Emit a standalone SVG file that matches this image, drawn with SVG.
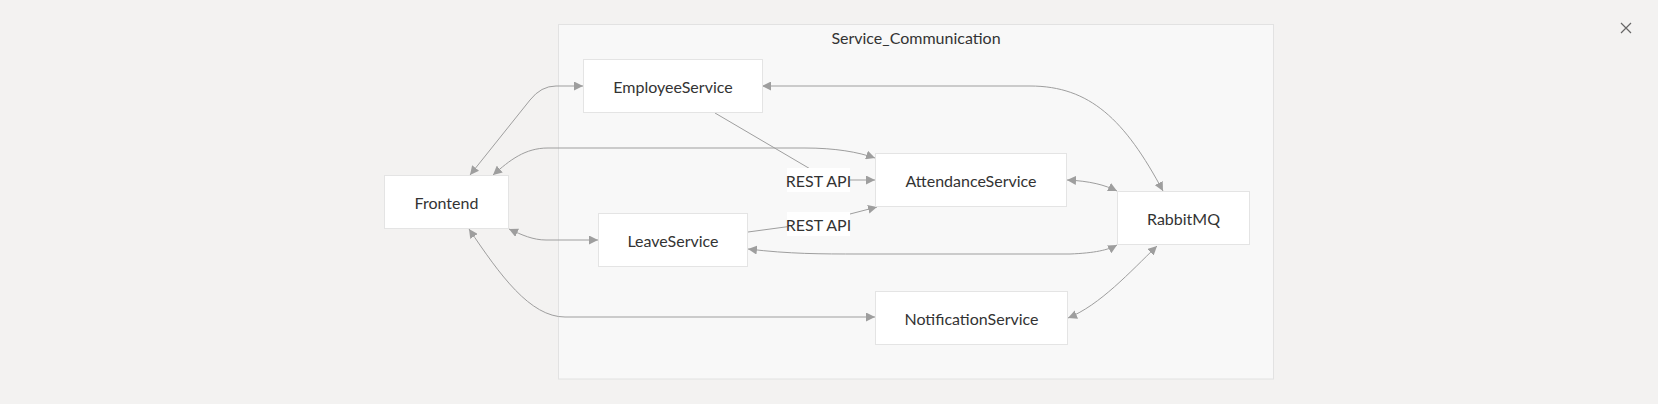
<svg xmlns="http://www.w3.org/2000/svg" width="1658" height="404" viewBox="0 0 1658 404">
<style>
.bg{fill:#f3f2f1}
.cluster{fill:#f8f8f8;stroke:#e2e2e2;stroke-width:1}
.node rect{fill:#ffffff;stroke:#e4e4e4;stroke-width:1}
text{font-family:Lato,"Liberation Sans",sans-serif;font-size:16px;fill:#333333}
.lbl{text-anchor:middle;dominant-baseline:central}
.edge{fill:none;stroke:#9e9e9e;stroke-width:1}
.elbl rect{fill:#ffffff}
</style>
<defs>
<marker id="ah" viewBox="0 0 10 10" refX="10" refY="5" markerWidth="9" markerHeight="9" markerUnits="userSpaceOnUse" orient="auto-start-reverse">
<path d="M0,0 L10,5 L0,10 z" fill="#9e9e9e"/>
</marker>
</defs>
<rect class="bg" x="0" y="0" width="1658" height="404"/>
<g id="close">
<path d="M1621,23 L1631,33 M1631,23 L1621,33" stroke="#666" stroke-width="1.2" fill="none"/>
</g>
<g id="Service_Communication">
<rect class="cluster" x="558.5" y="24.5" width="715" height="354.5"/>
<text class="lbl" x="916" y="37">Service_Communication</text>
</g>
<g id="connectors">
<path class="edge" d="M470,175 L530,100 Q541,86 556,86 L583,86" marker-start="url(#ah)" marker-end="url(#ah)"/>
<path class="edge" d="M493,175 C510,160 525,148 548,148 L805,148 C835,148 858,152 875,158" marker-start="url(#ah)" marker-end="url(#ah)"/>
<path class="edge" d="M509,229 C522,235 533,240 546,240 L598,240" marker-start="url(#ah)" marker-end="url(#ah)"/>
<path class="edge" d="M469,229 C500,275 530,317 565,317 L875,317" marker-start="url(#ah)" marker-end="url(#ah)"/>
<path class="edge" d="M715,113 L812,170 Q822,180 836,180 L875,180" marker-end="url(#ah)"/>
<path class="edge" d="M748,232 L800,225 L850,214 L877,207" marker-end="url(#ah)"/>
<path class="edge" d="M762,86 L1030,86 C1090,86 1125,120 1163,191" marker-start="url(#ah)" marker-end="url(#ah)"/>
<path class="edge" d="M1067,180 C1090,181 1105,185 1117,191" marker-start="url(#ah)" marker-end="url(#ah)"/>
<path class="edge" d="M748,249 C790,254 820,254 860,254 L1070,254 C1095,253 1108,250 1117,245" marker-start="url(#ah)" marker-end="url(#ah)"/>
<path class="edge" d="M1068,318 C1100,305 1130,272 1157,246" marker-start="url(#ah)" marker-end="url(#ah)"/>
<g class="elbl">
<rect x="787" y="168" width="63" height="24"/>
<text class="lbl" x="818.5" y="180">REST API</text>
<rect x="787" y="212" width="63" height="24"/>
<text class="lbl" x="818.5" y="224">REST API</text>
</g>
</g>
<g id="EmployeeService" class="node">
<rect x="583.5" y="59.5" width="179" height="53"/>
<text class="lbl" x="673" y="86">EmployeeService</text>
</g>
<g id="Frontend" class="node">
<rect x="384.5" y="175.5" width="124" height="53"/>
<text class="lbl" x="446.5" y="202">Frontend</text>
</g>
<g id="LeaveService" class="node">
<rect x="598.5" y="213.5" width="149" height="53"/>
<text class="lbl" x="673" y="240">LeaveService</text>
</g>
<g id="AttendanceService" class="node">
<rect x="875.5" y="153.5" width="191" height="53"/>
<text class="lbl" x="971" y="180">AttendanceService</text>
</g>
<g id="RabbitMQ" class="node">
<rect x="1117.5" y="191.5" width="132" height="53"/>
<text class="lbl" x="1183.5" y="218">RabbitMQ</text>
</g>
<g id="NotificationService" class="node">
<rect x="875.5" y="291.5" width="192" height="53"/>
<text class="lbl" x="971.5" y="318">NotificationService</text>
</g>
</svg>
